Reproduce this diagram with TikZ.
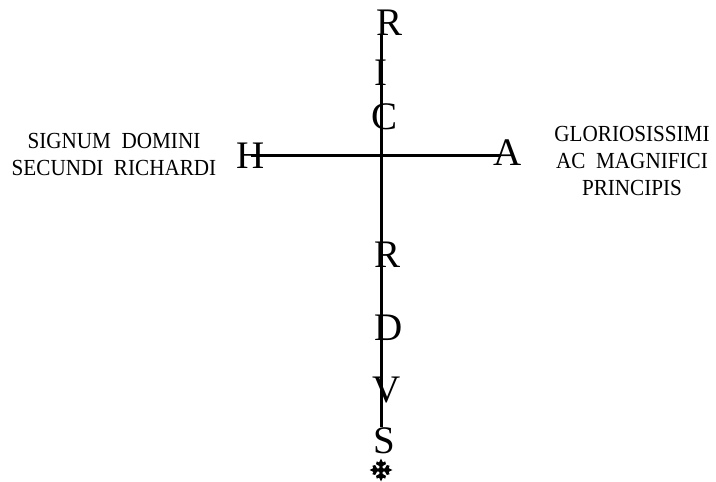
\documentclass[tikz,border=0pt]{standalone}
\usepackage{fontspec}
\setmainfont{Liberation Serif}
\newfontfamily\notefont[FakeStretch=0.92]{Liberation Serif}
\usepackage{tikz}
\usetikzlibrary{positioning}

\begin{document}
\begin{tikzpicture}[
    x=1pt, y=-1pt,
    glyph/.style={inner sep=0pt, anchor=base, font=\fontsize{39}{41}\selectfont},
    note/.style={inner sep=0pt, align=center, font=\notefont\fontsize{23}{27}\selectfont},
    bar/.style={line width=3pt, black}
]
\useasboundingbox (0,0) rectangle (716,482);

% the stem of the monogram
\node[glyph] (r1) at (390,35)  {R};
\node[glyph] (i)  at (381,85)  {I};
\node[glyph] (c)  at (385,129) {C};
\node[glyph] (r2) at (388,267) {R};
\node[glyph] (d)  at (389,340) {D};
\node[glyph] (v)  at (387,402) {V};
\node[glyph] (s)  at (384,453) {S};

% the arms
\node[glyph] (h) at (251,168) {H};
\node[glyph] (a) at (508,165) {A};

\draw[bar] (i |- r1.south) -- (i |- s.north);
\draw[bar, shorten >=-7pt] (h.center) -- (h.center -| a.west);

% small cross at the foot
\coordinate (mark) at (381,470);
\begin{scope}[shift={(mark)}]
  \foreach \ang in {0,90,180,270}
    \fill[rotate=\ang] (-1.6,0) -- (-1.6,-4) -- (-5,-5.8) -- (-4.2,-8.6) -- (-1.9,-7.6)
      -- (0,-11.5) -- (1.9,-7.6) -- (4.2,-8.6) -- (5,-5.8) -- (1.6,-4) -- (1.6,0) -- cycle;
  \fill (0,0) circle (2.6);
\end{scope}

\node[note] (left)  at (114,154) {SIGNUM\ \ DOMINI\\SECUNDI\ \ RICHARDI};
\node[note] (right) at (632,161) {GLORIOSISSIMI\\AC\ \ MAGNIFICI\\PRINCIPIS};

\end{tikzpicture}
\end{document}
